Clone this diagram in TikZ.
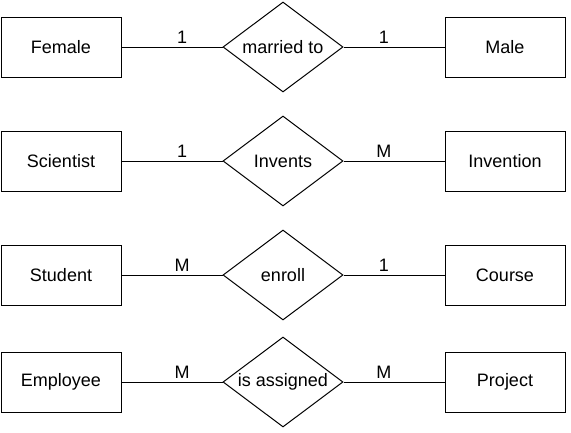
\documentclass[tikz,border=0pt]{standalone}
\usepackage{fontspec}
\setmainfont{Liberation Sans}
\usetikzlibrary{shapes.geometric,positioning}

\begin{document}
\begin{tikzpicture}[node distance=101pt,line width=1pt,
  font=\fontsize{18}{22}\selectfont,
  entity node/.style={rectangle,draw,minimum width=120pt,minimum height=60pt,inner sep=0pt},
  rel node/.style={diamond,draw,aspect=1.333,minimum width=120pt,minimum height=90pt,inner sep=0pt},
  card label/.style={above,inner sep=3pt}]

  \useasboundingbox (0,0) rectangle (571pt,-432pt);

  \node[rel node] (r1) at (283pt,-47pt) {married to};
  \node[rel node] (r2) [below=23pt of r1] {Invents};
  \node[rel node] (r3) [below=23pt of r2] {enroll};
  \node[rel node] (r4) [below=16pt of r3] {is assigned};

  \node[entity node] (female) [left=of r1] {Female};
  \node[entity node] (male) [right=of r1] {Male};
  \node[entity node] (scientist) [left=of r2] {Scientist};
  \node[entity node] (invention) [right=of r2] {Invention};
  \node[entity node] (student) [left=of r3] {Student};
  \node[entity node] (course) [right=of r3] {Course};
  \node[entity node] (employee) [left=of r4] {Employee};
  \node[entity node] (project) [right=of r4] {Project};

  \draw (female) -- (r1) node[card label,pos=0.6] {1};
  \draw (r1) -- (male) node[card label,pos=0.4] {1};
  \draw (scientist) -- (r2) node[card label,pos=0.6] {1};
  \draw (r2) -- (invention) node[card label,pos=0.4] {M};
  \draw (student) -- (r3) node[card label,pos=0.6] {M};
  \draw (r3) -- (course) node[card label,pos=0.4] {1};
  \draw (employee) -- (r4) node[card label,pos=0.6] {M};
  \draw (r4) -- (project) node[card label,pos=0.4] {M};
\end{tikzpicture}
\end{document}
